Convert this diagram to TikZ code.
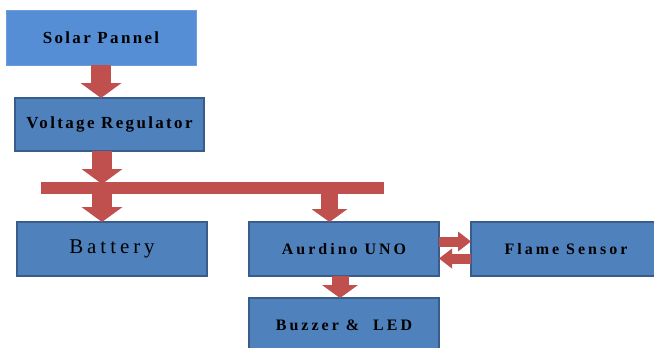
\documentclass[tikz,border=0pt]{standalone}
\usepackage{fontspec}
\setmainfont{Liberation Serif}
\newfontfamily\lblfont[LetterSpace=14]{Liberation Serif}
\newfontfamily\lblwide[LetterSpace=19]{Liberation Serif}
\usetikzlibrary{arrows.meta}

\definecolor{boxfill}{HTML}{4F81BD}
\definecolor{boxline}{HTML}{385D8A}
\definecolor{panelfill}{HTML}{558ED5}
\definecolor{panelline}{HTML}{6A9EDD}
\definecolor{flowred}{HTML}{C0504D}

\begin{document}
\begin{tikzpicture}[x = 1bp, y = -1bp,
		block/.style = {draw = boxline, line width = 2bp, fill = boxfill, inner sep = 0pt, outer sep = 0pt,
			minimum width = 190bp, minimum height = 54bp},
		power/.style = {draw = flowred, line width = 20bp, -{Triangle[length = 15bp, width = 41bp, line width = 0pt]}},
		feed/.style = {draw = flowred, line width = 17bp, -{Triangle[length = 13bp, width = 36bp, line width = 0pt]}},
		signal/.style = {draw = flowred, line width = 10bp, -{Triangle[length = 13bp, width = 20bp, line width = 0pt]}},
		bus/.style = {draw = flowred, line width = 12bp}]

	\useasboundingbox (0,0) rectangle (654,347);

	% blocks
	\node [block, draw = panelline, line width = 0.8bp, fill = panelfill, minimum height = 55bp] (solar) at (101,37.5)
		{\lblfont\fontsize{17}{20}\selectfont\bfseries Solar Pannel};
	\node [block, minimum width = 189bp, minimum height = 53bp] (reg) at (109.5,124.5)
		{\lblfont\fontsize{17}{20}\selectfont\bfseries Voltage Regulator};
	\node [block] (bat) at (112,249)
		{\lblwide\fontsize{21}{24}\selectfont Battery};
	\node [block] (uno) at (344,249)
		{\lblwide\fontsize{16}{19}\selectfont\bfseries Aurdino UNO};
	\node [block] (flame) at (566,249)
		{\lblwide\fontsize{16}{19}\selectfont\bfseries Flame Sensor};
	\node [block] (buzz) at (344,325)
		{\lblwide\fontsize{16}{19}\selectfont\bfseries Buzzer \&\ \ LED};

	% supply line
	\coordinate (busL) at (41,187.5);
	\coordinate (busR) at (384,187.5);
	\coordinate (tapL) at (102,187.5);
	\coordinate (tapR) at (329.5,187.5);

	\draw [power] (solar.south) -- (solar.south |- reg.north);
	\draw [power] (reg.south -| tapL) -- ([yshift = 3.5bp]tapL);
	\draw [power] (tapL) -- (tapL |- bat.north);
	\draw [feed] (tapR) -- (tapR |- uno.north);
	\draw [bus] (busL) -- (busR);

	% control
	\draw [feed] ([xshift = -4bp]uno.south) -- ([xshift = -4bp]buzz.north);
	\draw [signal] ([yshift = 7.5bp]uno.east) -- ([yshift = 7.5bp]flame.west);
	\draw [signal] ([yshift = -9.5bp]flame.west) -- ([yshift = -9.5bp]uno.east);
\end{tikzpicture}
\end{document}
